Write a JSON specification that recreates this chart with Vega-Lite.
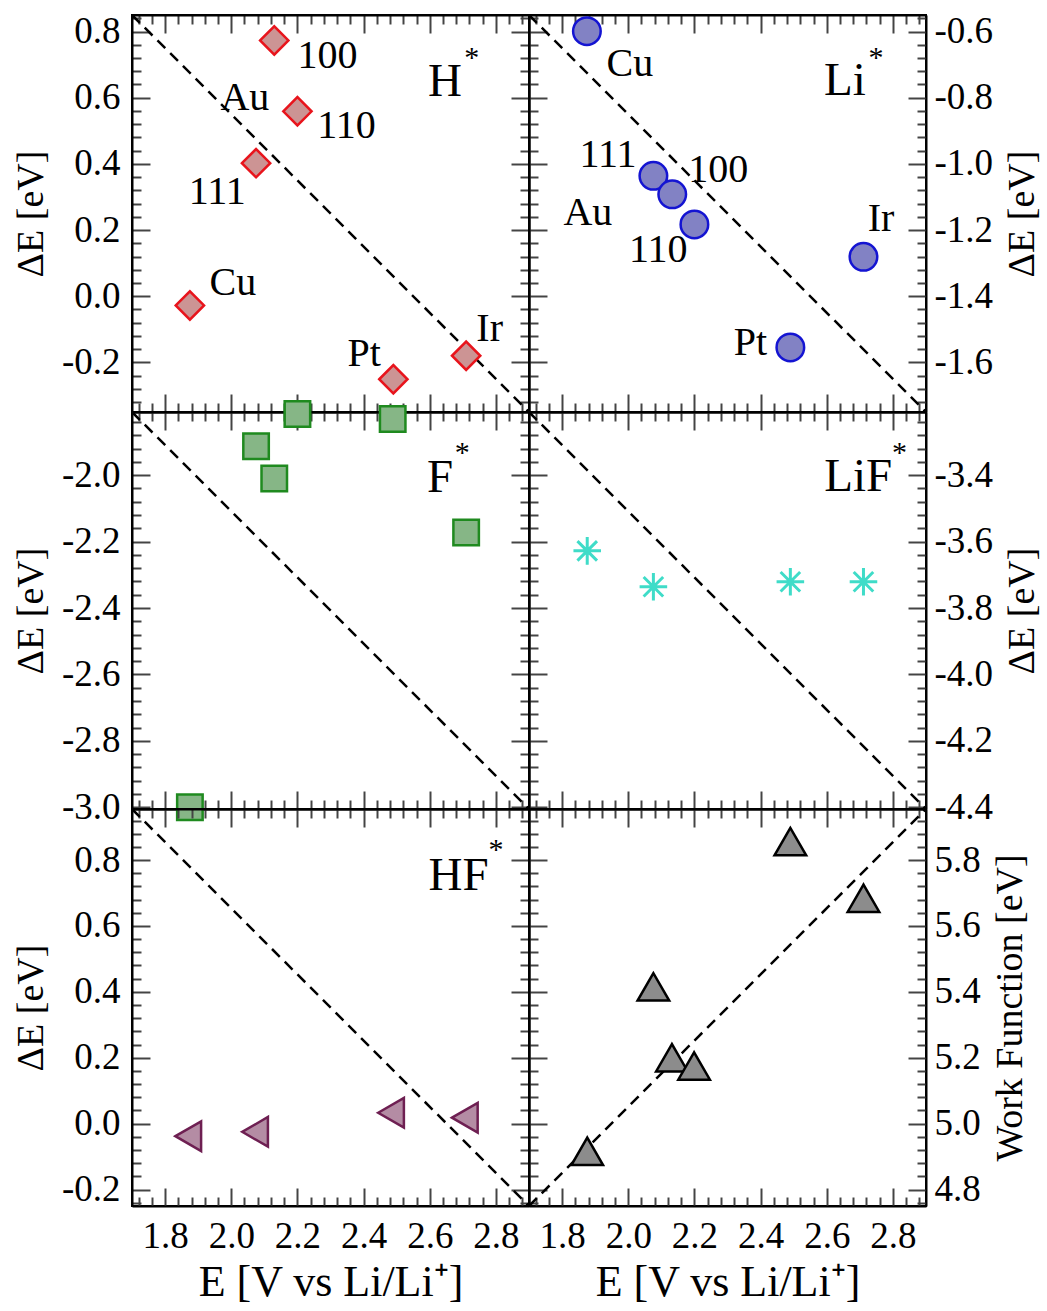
{
"$schema": "https://vega.github.io/schema/vega-lite/v6.json",
"background": "white",
"padding": {"left": 11, "top": 9, "right": 2, "bottom": 4},
"columns": 2, "spacing": 0, "bounds": "flush",
"datasets": {
"pts": [
{"panel":"H","site":"Cu","x":1.875,"y":-0.028},{"panel":"H","site":"Au111","x":2.075,"y":0.402},{"panel":"H","site":"Au100","x":2.13,"y":0.773},{"panel":"H","site":"Au110","x":2.2,"y":0.559},{"panel":"H","site":"Pt","x":2.49,"y":-0.251},{"panel":"H","site":"Ir","x":2.71,"y":-0.18},
{"panel":"Li","site":"Cu","x":1.875,"y":-0.599},{"panel":"Li","site":"Au111","x":2.076,"y":-1.036},{"panel":"Li","site":"Au100","x":2.133,"y":-1.092},{"panel":"Li","site":"Au110","x":2.2,"y":-1.183},{"panel":"Li","site":"Pt","x":2.49,"y":-1.555},{"panel":"Li","site":"Ir","x":2.711,"y":-1.281},
{"panel":"F","site":"Cu","x":1.875,"y":-3.0},{"panel":"F","site":"Au111","x":2.075,"y":-1.913},{"panel":"F","site":"Au100","x":2.13,"y":-2.01},{"panel":"F","site":"Au110","x":2.2,"y":-1.816},{"panel":"F","site":"Pt","x":2.488,"y":-1.831},{"panel":"F","site":"Ir","x":2.71,"y":-2.173},
{"panel":"LiF","site":"Cu","x":1.876,"y":-3.628},{"panel":"LiF","site":"Au111","x":2.076,"y":-3.736},{"panel":"LiF","site":"Pt","x":2.49,"y":-3.721},{"panel":"LiF","site":"Ir","x":2.711,"y":-3.721},
{"panel":"HF","site":"Cu","x":1.87,"y":-0.038},{"panel":"HF","site":"Au111","x":2.072,"y":-0.025},{"panel":"HF","site":"Pt","x":2.483,"y":0.033},{"panel":"HF","site":"Ir","x":2.706,"y":0.018},
{"panel":"WF","site":"Cu","x":1.876,"y":4.916},{"panel":"WF","site":"Au111","x":2.076,"y":5.415},{"panel":"WF","site":"Au100","x":2.132,"y":5.2},{"panel":"WF","site":"Au110","x":2.199,"y":5.175},{"panel":"WF","site":"Pt","x":2.49,"y":5.856},{"panel":"WF","site":"Ir","x":2.711,"y":5.684}
],
"lbl": [
{"panel":"H","text":"100","x":2.291,"y":0.725},{"panel":"H","text":"Au","x":2.041,"y":0.599},{"panel":"H","text":"110","x":2.348,"y":0.515},{"panel":"H","text":"111","x":1.958,"y":0.315},{"panel":"H","text":"Cu","x":2.005,"y":0.04},{"panel":"H","text":"Pt","x":2.402,"y":-0.175},{"panel":"H","text":"Ir","x":2.781,"y":-0.099},
{"panel":"Li","text":"Cu","x":2.005,"y":-0.698},{"panel":"Li","text":"111","x":1.939,"y":-0.973},{"panel":"Li","text":"100","x":2.272,"y":-1.018},{"panel":"Li","text":"Au","x":1.878,"y":-1.147},{"panel":"Li","text":"110","x":2.091,"y":-1.259},{"panel":"Li","text":"Ir","x":2.764,"y":-1.168},{"panel":"Li","text":"Pt","x":2.369,"y":-1.541}
],
"name": [
{"panel":"H","text":"H","x":2.646,"y":0.646},{"panel":"Li","text":"Li","x":2.655,"y":-0.75},{"panel":"F","text":"F","x":2.631,"y":-2.01},{"panel":"LiF","text":"LiF","x":2.695,"y":-3.407},{"panel":"HF","text":"HF","x":2.687,"y":0.753}
],
"star": [
{"panel":"H","text":"*","x":2.727,"y":0.72},{"panel":"Li","text":"*","x":2.749,"y":-0.68},{"panel":"F","text":"*","x":2.698,"y":-1.933},{"panel":"LiF","text":"*","x":2.82,"y":-3.334},{"panel":"HF","text":"*","x":2.8,"y":0.831}
],
"diag": [
{"panel":"H","x":1.7,"y":0.85},{"panel":"H","x":2.9,"y":-0.35},
{"panel":"Li","x":1.7,"y":-0.55},{"panel":"Li","x":2.9,"y":-1.75},
{"panel":"F","x":1.7,"y":-1.81},{"panel":"F","x":2.9,"y":-3.005},
{"panel":"LiF","x":1.7,"y":-3.21},{"panel":"LiF","x":2.9,"y":-4.405},
{"panel":"HF","x":1.7,"y":0.955},{"panel":"HF","x":2.9,"y":-0.25},
{"panel":"WF","x":1.7,"y":4.75},{"panel":"WF","x":2.9,"y":5.955}
]
},
"concat": [
{
"width": 397, "height": 397,
"resolve": {"axis": {"x": "independent", "y": "independent"}},
"layer": [
{"data": {"name": "diag"}, "transform": [{"filter": "datum.panel=='H'"}],
 "mark": {"type": "line", "stroke": "black", "strokeWidth": 2.5, "strokeDash": [11, 7]},
 "encoding": {
  "x": {"field": "x", "type": "quantitative", "scale": {"domain": [1.7, 2.9], "nice": false, "zero": false},
   "axis": {"orient": "bottom", "values": [1.72,1.76,1.8,1.84,1.88,1.92,1.96,2.0,2.04,2.08,2.12,2.16,2.2,2.24,2.28,2.32,2.36,2.4,2.44,2.48,2.52,2.56,2.6,2.64,2.68,2.72,2.76,2.8,2.84,2.88], "tickSize": {"condition": {"test": "abs(datum.value*5-round(datum.value*5))<0.01", "value": -18}, "value": -9}, "labels": false, "title": null}},
  "y": {"field": "y", "type": "quantitative", "scale": {"domain": [-0.35, 0.85], "nice": false, "zero": false},
   "axis": {"orient": "left", "values": [-0.32,-0.28,-0.24,-0.2,-0.16,-0.12,-0.08,-0.04,0,0.04,0.08,0.12,0.16,0.2,0.24,0.28,0.32,0.36,0.4,0.44,0.48,0.52,0.56,0.6,0.64,0.68,0.72,0.76,0.8,0.84], "tickSize": {"condition": {"test": "abs(datum.value*5-round(datum.value*5))<0.01", "value": -18}, "value": -9}, "labelFontSize": {"condition": {"test": "abs(datum.value*5-round(datum.value*5))<0.01", "value": 37}, "value": 0}, "labelExpr": "abs(datum.value*5-round(datum.value*5))<0.01 ? replace(format(datum.value,'.1f'),'−','-') : ''", "labelPadding": 30, "title": "ΔE [eV]", "titlePadding": 11}}
 }},
{"data": {"name": "pts"}, "transform": [{"filter": "datum.panel=='H'"}],
 "mark": {"type": "point", "shape": "diamond", "filled": true, "fill": "#cc9494", "fillOpacity": 1, "stroke": "#e8141c", "strokeWidth": 2.5, "size": 800, "opacity": 1},
 "encoding": {
  "x": {"field": "x", "type": "quantitative", "scale": {"domain": [1.7, 2.9], "nice": false, "zero": false},
   "axis": {"orient": "top", "values": [1.72,1.76,1.8,1.84,1.88,1.92,1.96,2.0,2.04,2.08,2.12,2.16,2.2,2.24,2.28,2.32,2.36,2.4,2.44,2.48,2.52,2.56,2.6,2.64,2.68,2.72,2.76,2.8,2.84,2.88], "tickSize": {"condition": {"test": "abs(datum.value*5-round(datum.value*5))<0.01", "value": -18}, "value": -9}, "labels": false, "title": null}},
  "y": {"field": "y", "type": "quantitative", "scale": {"domain": [-0.35, 0.85], "nice": false, "zero": false},
   "axis": {"orient": "right", "values": [-0.32,-0.28,-0.24,-0.2,-0.16,-0.12,-0.08,-0.04,0,0.04,0.08,0.12,0.16,0.2,0.24,0.28,0.32,0.36,0.4,0.44,0.48,0.52,0.56,0.6,0.64,0.68,0.72,0.76,0.8,0.84], "tickSize": {"condition": {"test": "abs(datum.value*5-round(datum.value*5))<0.01", "value": -18}, "value": -9}, "labels": false, "title": null}}
 }},
{"data": {"name": "lbl"}, "transform": [{"filter": "datum.panel=='H'"}],
 "mark": {"type": "text", "fontSize": 40, "align": "center", "baseline": "middle"},
 "encoding": {"x": {"field": "x", "type": "quantitative", "scale": {"domain": [1.7, 2.9], "nice": false, "zero": false}, "axis": null},
  "y": {"field": "y", "type": "quantitative", "scale": {"domain": [-0.35, 0.85], "nice": false, "zero": false}, "axis": null},
  "text": {"field": "text"}}},
{"data": {"name": "name"}, "transform": [{"filter": "datum.panel=='H'"}],
 "mark": {"type": "text", "fontSize": 47, "align": "center", "baseline": "middle"},
 "encoding": {"x": {"field": "x", "type": "quantitative", "scale": {"domain": [1.7, 2.9], "nice": false, "zero": false}, "axis": null},
  "y": {"field": "y", "type": "quantitative", "scale": {"domain": [-0.35, 0.85], "nice": false, "zero": false}, "axis": null},
  "text": {"field": "text"}}},
{"data": {"name": "star"}, "transform": [{"filter": "datum.panel=='H'"}],
 "mark": {"type": "text", "fontSize": 30, "align": "center", "baseline": "middle"},
 "encoding": {"x": {"field": "x", "type": "quantitative", "scale": {"domain": [1.7, 2.9], "nice": false, "zero": false}, "axis": null},
  "y": {"field": "y", "type": "quantitative", "scale": {"domain": [-0.35, 0.85], "nice": false, "zero": false}, "axis": null},
  "text": {"field": "text"}}}
]
},
{
"width": 397, "height": 397,
"resolve": {"axis": {"x": "independent", "y": "independent"}},
"layer": [
{"data": {"name": "diag"}, "transform": [{"filter": "datum.panel=='Li'"}],
 "mark": {"type": "line", "stroke": "black", "strokeWidth": 2.5, "strokeDash": [11, 7]},
 "encoding": {
  "x": {"field": "x", "type": "quantitative", "scale": {"domain": [1.7, 2.9], "nice": false, "zero": false},
   "axis": {"orient": "bottom", "values": [1.72,1.76,1.8,1.84,1.88,1.92,1.96,2.0,2.04,2.08,2.12,2.16,2.2,2.24,2.28,2.32,2.36,2.4,2.44,2.48,2.52,2.56,2.6,2.64,2.68,2.72,2.76,2.8,2.84,2.88], "tickSize": {"condition": {"test": "abs(datum.value*5-round(datum.value*5))<0.01", "value": -18}, "value": -9}, "labels": false, "title": null}},
  "y": {"field": "y", "type": "quantitative", "scale": {"domain": [-1.75, -0.55], "nice": false, "zero": false},
   "axis": {"orient": "right", "values": [-1.72,-1.68,-1.64,-1.6,-1.56,-1.52,-1.48,-1.44,-1.4,-1.36,-1.32,-1.28,-1.24,-1.2,-1.16,-1.12,-1.08,-1.04,-1.0,-0.96,-0.92,-0.88,-0.84,-0.8,-0.76,-0.72,-0.68,-0.64,-0.6,-0.56], "tickSize": {"condition": {"test": "abs(datum.value*5-round(datum.value*5))<0.01", "value": -18}, "value": -9}, "labelFontSize": {"condition": {"test": "abs(datum.value*5-round(datum.value*5))<0.01", "value": 37}, "value": 0}, "labelExpr": "abs(datum.value*5-round(datum.value*5))<0.01 ? replace(format(datum.value,'.1f'),'−','-') : ''", "labelPadding": 26, "title": "ΔE [eV]", "titleAngle": 270, "titleBaseline": "top", "titlePadding": 11}}
 }},
{"data": {"name": "pts"}, "transform": [{"filter": "datum.panel=='Li'"}],
 "mark": {"type": "point", "shape": "circle", "filled": true, "fill": "#8282c4", "fillOpacity": 1, "stroke": "#1414d2", "strokeWidth": 2.5, "size": 760, "opacity": 1},
 "encoding": {
  "x": {"field": "x", "type": "quantitative", "scale": {"domain": [1.7, 2.9], "nice": false, "zero": false},
   "axis": {"orient": "top", "values": [1.72,1.76,1.8,1.84,1.88,1.92,1.96,2.0,2.04,2.08,2.12,2.16,2.2,2.24,2.28,2.32,2.36,2.4,2.44,2.48,2.52,2.56,2.6,2.64,2.68,2.72,2.76,2.8,2.84,2.88], "tickSize": {"condition": {"test": "abs(datum.value*5-round(datum.value*5))<0.01", "value": -18}, "value": -9}, "labels": false, "title": null}},
  "y": {"field": "y", "type": "quantitative", "scale": {"domain": [-1.75, -0.55], "nice": false, "zero": false},
   "axis": {"orient": "left", "values": [-1.72,-1.68,-1.64,-1.6,-1.56,-1.52,-1.48,-1.44,-1.4,-1.36,-1.32,-1.28,-1.24,-1.2,-1.16,-1.12,-1.08,-1.04,-1.0,-0.96,-0.92,-0.88,-0.84,-0.8,-0.76,-0.72,-0.68,-0.64,-0.6,-0.56], "tickSize": {"condition": {"test": "abs(datum.value*5-round(datum.value*5))<0.01", "value": -18}, "value": -9}, "labels": false, "title": null}}
 }},
{"data": {"name": "lbl"}, "transform": [{"filter": "datum.panel=='Li'"}],
 "mark": {"type": "text", "fontSize": 40, "align": "center", "baseline": "middle"},
 "encoding": {"x": {"field": "x", "type": "quantitative", "scale": {"domain": [1.7, 2.9], "nice": false, "zero": false}, "axis": null},
  "y": {"field": "y", "type": "quantitative", "scale": {"domain": [-1.75, -0.55], "nice": false, "zero": false}, "axis": null},
  "text": {"field": "text"}}},
{"data": {"name": "name"}, "transform": [{"filter": "datum.panel=='Li'"}],
 "mark": {"type": "text", "fontSize": 47, "align": "center", "baseline": "middle"},
 "encoding": {"x": {"field": "x", "type": "quantitative", "scale": {"domain": [1.7, 2.9], "nice": false, "zero": false}, "axis": null},
  "y": {"field": "y", "type": "quantitative", "scale": {"domain": [-1.75, -0.55], "nice": false, "zero": false}, "axis": null},
  "text": {"field": "text"}}},
{"data": {"name": "star"}, "transform": [{"filter": "datum.panel=='Li'"}],
 "mark": {"type": "text", "fontSize": 30, "align": "center", "baseline": "middle"},
 "encoding": {"x": {"field": "x", "type": "quantitative", "scale": {"domain": [1.7, 2.9], "nice": false, "zero": false}, "axis": null},
  "y": {"field": "y", "type": "quantitative", "scale": {"domain": [-1.75, -0.55], "nice": false, "zero": false}, "axis": null},
  "text": {"field": "text"}}}
]
},
{
"width": 397, "height": 397,
"resolve": {"axis": {"x": "independent", "y": "independent"}},
"layer": [
{"data": {"name": "diag"}, "transform": [{"filter": "datum.panel=='F'"}],
 "mark": {"type": "line", "stroke": "black", "strokeWidth": 2.5, "strokeDash": [11, 7]},
 "encoding": {
  "x": {"field": "x", "type": "quantitative", "scale": {"domain": [1.7, 2.9], "nice": false, "zero": false},
   "axis": {"orient": "bottom", "values": [1.72,1.76,1.8,1.84,1.88,1.92,1.96,2.0,2.04,2.08,2.12,2.16,2.2,2.24,2.28,2.32,2.36,2.4,2.44,2.48,2.52,2.56,2.6,2.64,2.68,2.72,2.76,2.8,2.84,2.88], "tickSize": {"condition": {"test": "abs(datum.value*5-round(datum.value*5))<0.01", "value": -18}, "value": -9}, "labels": false, "title": null}},
  "y": {"field": "y", "type": "quantitative", "scale": {"domain": [-3.005, -1.81], "nice": false, "zero": false},
   "axis": {"orient": "left", "values": [-3.0,-2.96,-2.92,-2.88,-2.84,-2.8,-2.76,-2.72,-2.68,-2.64,-2.6,-2.56,-2.52,-2.48,-2.44,-2.4,-2.36,-2.32,-2.28,-2.24,-2.2,-2.16,-2.12,-2.08,-2.04,-2.0,-1.96,-1.92,-1.88,-1.84], "tickSize": {"condition": {"test": "abs(datum.value*5-round(datum.value*5))<0.01", "value": -18}, "value": -9}, "labelFontSize": {"condition": {"test": "abs(datum.value*5-round(datum.value*5))<0.01", "value": 37}, "value": 0}, "labelExpr": "abs(datum.value*5-round(datum.value*5))<0.01 ? replace(format(datum.value,'.1f'),'−','-') : ''", "labelPadding": 30, "title": "ΔE [eV]", "titlePadding": 11}}
 }},
{"data": {"name": "pts"}, "transform": [{"filter": "datum.panel=='F'"}],
 "mark": {"type": "point", "shape": "square", "filled": true, "fill": "#86b686", "fillOpacity": 1, "stroke": "#1f8a1f", "strokeWidth": 2.5, "size": 650, "opacity": 1},
 "encoding": {
  "x": {"field": "x", "type": "quantitative", "scale": {"domain": [1.7, 2.9], "nice": false, "zero": false},
   "axis": {"orient": "top", "values": [1.72,1.76,1.8,1.84,1.88,1.92,1.96,2.0,2.04,2.08,2.12,2.16,2.2,2.24,2.28,2.32,2.36,2.4,2.44,2.48,2.52,2.56,2.6,2.64,2.68,2.72,2.76,2.8,2.84,2.88], "tickSize": {"condition": {"test": "abs(datum.value*5-round(datum.value*5))<0.01", "value": -18}, "value": -9}, "labels": false, "title": null}},
  "y": {"field": "y", "type": "quantitative", "scale": {"domain": [-3.005, -1.81], "nice": false, "zero": false},
   "axis": {"orient": "right", "values": [-3.0,-2.96,-2.92,-2.88,-2.84,-2.8,-2.76,-2.72,-2.68,-2.64,-2.6,-2.56,-2.52,-2.48,-2.44,-2.4,-2.36,-2.32,-2.28,-2.24,-2.2,-2.16,-2.12,-2.08,-2.04,-2.0,-1.96,-1.92,-1.88,-1.84], "tickSize": {"condition": {"test": "abs(datum.value*5-round(datum.value*5))<0.01", "value": -18}, "value": -9}, "labels": false, "title": null}}
 }},
{"data": {"name": "name"}, "transform": [{"filter": "datum.panel=='F'"}],
 "mark": {"type": "text", "fontSize": 47, "align": "center", "baseline": "middle"},
 "encoding": {"x": {"field": "x", "type": "quantitative", "scale": {"domain": [1.7, 2.9], "nice": false, "zero": false}, "axis": null},
  "y": {"field": "y", "type": "quantitative", "scale": {"domain": [-3.005, -1.81], "nice": false, "zero": false}, "axis": null},
  "text": {"field": "text"}}},
{"data": {"name": "star"}, "transform": [{"filter": "datum.panel=='F'"}],
 "mark": {"type": "text", "fontSize": 30, "align": "center", "baseline": "middle"},
 "encoding": {"x": {"field": "x", "type": "quantitative", "scale": {"domain": [1.7, 2.9], "nice": false, "zero": false}, "axis": null},
  "y": {"field": "y", "type": "quantitative", "scale": {"domain": [-3.005, -1.81], "nice": false, "zero": false}, "axis": null},
  "text": {"field": "text"}}}
]
},
{
"width": 397, "height": 397,
"resolve": {"axis": {"x": "independent", "y": "independent"}},
"layer": [
{"data": {"name": "diag"}, "transform": [{"filter": "datum.panel=='LiF'"}],
 "mark": {"type": "line", "stroke": "black", "strokeWidth": 2.5, "strokeDash": [11, 7]},
 "encoding": {
  "x": {"field": "x", "type": "quantitative", "scale": {"domain": [1.7, 2.9], "nice": false, "zero": false},
   "axis": {"orient": "bottom", "values": [1.72,1.76,1.8,1.84,1.88,1.92,1.96,2.0,2.04,2.08,2.12,2.16,2.2,2.24,2.28,2.32,2.36,2.4,2.44,2.48,2.52,2.56,2.6,2.64,2.68,2.72,2.76,2.8,2.84,2.88], "tickSize": {"condition": {"test": "abs(datum.value*5-round(datum.value*5))<0.01", "value": -18}, "value": -9}, "labels": false, "title": null}},
  "y": {"field": "y", "type": "quantitative", "scale": {"domain": [-4.405, -3.21], "nice": false, "zero": false},
   "axis": {"orient": "right", "values": [-4.4,-4.36,-4.32,-4.28,-4.24,-4.2,-4.16,-4.12,-4.08,-4.04,-4.0,-3.96,-3.92,-3.88,-3.84,-3.8,-3.76,-3.72,-3.68,-3.64,-3.6,-3.56,-3.52,-3.48,-3.44,-3.4,-3.36,-3.32,-3.28,-3.24], "tickSize": {"condition": {"test": "abs(datum.value*5-round(datum.value*5))<0.01", "value": -18}, "value": -9}, "labelFontSize": {"condition": {"test": "abs(datum.value*5-round(datum.value*5))<0.01", "value": 37}, "value": 0}, "labelExpr": "abs(datum.value*5-round(datum.value*5))<0.01 ? replace(format(datum.value,'.1f'),'−','-') : ''", "labelPadding": 26, "title": "ΔE [eV]", "titleAngle": 270, "titleBaseline": "top", "titlePadding": 11}}
 }},
{"data": {"name": "pts"}, "transform": [{"filter": "datum.panel=='LiF'"}],
 "mark": {"type": "point", "shape": "M-1,0L1,0M0,-1L0,1M-0.71,-0.71L0.71,0.71M-0.71,0.71L0.71,-0.71", "filled": false, "stroke": "#3fdcc8", "strokeWidth": 3, "size": 760, "opacity": 1},
 "encoding": {
  "x": {"field": "x", "type": "quantitative", "scale": {"domain": [1.7, 2.9], "nice": false, "zero": false},
   "axis": {"orient": "top", "values": [1.72,1.76,1.8,1.84,1.88,1.92,1.96,2.0,2.04,2.08,2.12,2.16,2.2,2.24,2.28,2.32,2.36,2.4,2.44,2.48,2.52,2.56,2.6,2.64,2.68,2.72,2.76,2.8,2.84,2.88], "tickSize": {"condition": {"test": "abs(datum.value*5-round(datum.value*5))<0.01", "value": -18}, "value": -9}, "labels": false, "title": null}},
  "y": {"field": "y", "type": "quantitative", "scale": {"domain": [-4.405, -3.21], "nice": false, "zero": false},
   "axis": {"orient": "left", "values": [-4.4,-4.36,-4.32,-4.28,-4.24,-4.2,-4.16,-4.12,-4.08,-4.04,-4.0,-3.96,-3.92,-3.88,-3.84,-3.8,-3.76,-3.72,-3.68,-3.64,-3.6,-3.56,-3.52,-3.48,-3.44,-3.4,-3.36,-3.32,-3.28,-3.24], "tickSize": {"condition": {"test": "abs(datum.value*5-round(datum.value*5))<0.01", "value": -18}, "value": -9}, "labels": false, "title": null}}
 }},
{"data": {"name": "name"}, "transform": [{"filter": "datum.panel=='LiF'"}],
 "mark": {"type": "text", "fontSize": 47, "align": "center", "baseline": "middle"},
 "encoding": {"x": {"field": "x", "type": "quantitative", "scale": {"domain": [1.7, 2.9], "nice": false, "zero": false}, "axis": null},
  "y": {"field": "y", "type": "quantitative", "scale": {"domain": [-4.405, -3.21], "nice": false, "zero": false}, "axis": null},
  "text": {"field": "text"}}},
{"data": {"name": "star"}, "transform": [{"filter": "datum.panel=='LiF'"}],
 "mark": {"type": "text", "fontSize": 30, "align": "center", "baseline": "middle"},
 "encoding": {"x": {"field": "x", "type": "quantitative", "scale": {"domain": [1.7, 2.9], "nice": false, "zero": false}, "axis": null},
  "y": {"field": "y", "type": "quantitative", "scale": {"domain": [-4.405, -3.21], "nice": false, "zero": false}, "axis": null},
  "text": {"field": "text"}}}
]
},
{
"width": 397, "height": 397,
"resolve": {"axis": {"x": "independent", "y": "independent"}},
"layer": [
{"data": {"name": "diag"}, "transform": [{"filter": "datum.panel=='HF'"}],
 "mark": {"type": "line", "stroke": "black", "strokeWidth": 2.5, "strokeDash": [11, 7]},
 "encoding": {
  "x": {"field": "x", "type": "quantitative", "scale": {"domain": [1.7, 2.9], "nice": false, "zero": false},
   "axis": {"orient": "bottom", "values": [1.72,1.76,1.8,1.84,1.88,1.92,1.96,2.0,2.04,2.08,2.12,2.16,2.2,2.24,2.28,2.32,2.36,2.4,2.44,2.48,2.52,2.56,2.6,2.64,2.68,2.72,2.76,2.8,2.84,2.88], "tickSize": {"condition": {"test": "abs(datum.value*5-round(datum.value*5))<0.01", "value": -18}, "value": -9}, "labelFontSize": {"condition": {"test": "abs(datum.value*5-round(datum.value*5))<0.01", "value": 37}, "value": 0}, "labelExpr": "abs(datum.value*5-round(datum.value*5))<0.01 ? format(datum.value,'.1f') : ''", "labelPadding": 30, "title": "E [V vs Li/Li⁺]", "titleFontSize": 44, "titlePadding": 6}},
  "y": {"field": "y", "type": "quantitative", "scale": {"domain": [-0.25, 0.955], "nice": false, "zero": false},
   "axis": {"orient": "left", "values": [-0.24,-0.2,-0.16,-0.12,-0.08,-0.04,0,0.04,0.08,0.12,0.16,0.2,0.24,0.28,0.32,0.36,0.4,0.44,0.48,0.52,0.56,0.6,0.64,0.68,0.72,0.76,0.8,0.84,0.88,0.92], "tickSize": {"condition": {"test": "abs(datum.value*5-round(datum.value*5))<0.01", "value": -18}, "value": -9}, "labelFontSize": {"condition": {"test": "abs(datum.value*5-round(datum.value*5))<0.01", "value": 37}, "value": 0}, "labelExpr": "abs(datum.value*5-round(datum.value*5))<0.01 ? replace(format(datum.value,'.1f'),'−','-') : ''", "labelPadding": 30, "title": "ΔE [eV]", "titlePadding": 11}}
 }},
{"data": {"name": "pts"}, "transform": [{"filter": "datum.panel=='HF'"}],
 "mark": {"type": "point", "shape": "triangle-left", "filled": true, "fill": "#b48ca4", "fillOpacity": 1, "stroke": "#6e1f52", "strokeWidth": 2.5, "size": 880, "opacity": 1},
 "encoding": {
  "x": {"field": "x", "type": "quantitative", "scale": {"domain": [1.7, 2.9], "nice": false, "zero": false},
   "axis": {"orient": "top", "values": [1.72,1.76,1.8,1.84,1.88,1.92,1.96,2.0,2.04,2.08,2.12,2.16,2.2,2.24,2.28,2.32,2.36,2.4,2.44,2.48,2.52,2.56,2.6,2.64,2.68,2.72,2.76,2.8,2.84,2.88], "tickSize": {"condition": {"test": "abs(datum.value*5-round(datum.value*5))<0.01", "value": -18}, "value": -9}, "labels": false, "title": null}},
  "y": {"field": "y", "type": "quantitative", "scale": {"domain": [-0.25, 0.955], "nice": false, "zero": false},
   "axis": {"orient": "right", "values": [-0.24,-0.2,-0.16,-0.12,-0.08,-0.04,0,0.04,0.08,0.12,0.16,0.2,0.24,0.28,0.32,0.36,0.4,0.44,0.48,0.52,0.56,0.6,0.64,0.68,0.72,0.76,0.8,0.84,0.88,0.92], "tickSize": {"condition": {"test": "abs(datum.value*5-round(datum.value*5))<0.01", "value": -18}, "value": -9}, "labels": false, "title": null}}
 }},
{"data": {"name": "name"}, "transform": [{"filter": "datum.panel=='HF'"}],
 "mark": {"type": "text", "fontSize": 47, "align": "center", "baseline": "middle"},
 "encoding": {"x": {"field": "x", "type": "quantitative", "scale": {"domain": [1.7, 2.9], "nice": false, "zero": false}, "axis": null},
  "y": {"field": "y", "type": "quantitative", "scale": {"domain": [-0.25, 0.955], "nice": false, "zero": false}, "axis": null},
  "text": {"field": "text"}}},
{"data": {"name": "star"}, "transform": [{"filter": "datum.panel=='HF'"}],
 "mark": {"type": "text", "fontSize": 30, "align": "center", "baseline": "middle"},
 "encoding": {"x": {"field": "x", "type": "quantitative", "scale": {"domain": [1.7, 2.9], "nice": false, "zero": false}, "axis": null},
  "y": {"field": "y", "type": "quantitative", "scale": {"domain": [-0.25, 0.955], "nice": false, "zero": false}, "axis": null},
  "text": {"field": "text"}}}
]
},
{
"width": 397, "height": 397,
"resolve": {"axis": {"x": "independent", "y": "independent"}},
"layer": [
{"data": {"name": "diag"}, "transform": [{"filter": "datum.panel=='WF'"}],
 "mark": {"type": "line", "stroke": "black", "strokeWidth": 2.5, "strokeDash": [11, 7]},
 "encoding": {
  "x": {"field": "x", "type": "quantitative", "scale": {"domain": [1.7, 2.9], "nice": false, "zero": false},
   "axis": {"orient": "bottom", "values": [1.72,1.76,1.8,1.84,1.88,1.92,1.96,2.0,2.04,2.08,2.12,2.16,2.2,2.24,2.28,2.32,2.36,2.4,2.44,2.48,2.52,2.56,2.6,2.64,2.68,2.72,2.76,2.8,2.84,2.88], "tickSize": {"condition": {"test": "abs(datum.value*5-round(datum.value*5))<0.01", "value": -18}, "value": -9}, "labelFontSize": {"condition": {"test": "abs(datum.value*5-round(datum.value*5))<0.01", "value": 37}, "value": 0}, "labelExpr": "abs(datum.value*5-round(datum.value*5))<0.01 ? format(datum.value,'.1f') : ''", "labelPadding": 30, "title": "E [V vs Li/Li⁺]", "titleFontSize": 44, "titlePadding": 6}},
  "y": {"field": "y", "type": "quantitative", "scale": {"domain": [4.75, 5.955], "nice": false, "zero": false},
   "axis": {"orient": "right", "values": [4.76,4.8,4.84,4.88,4.92,4.96,5.0,5.04,5.08,5.12,5.16,5.2,5.24,5.28,5.32,5.36,5.4,5.44,5.48,5.52,5.56,5.6,5.64,5.68,5.72,5.76,5.8,5.84,5.88,5.92], "tickSize": {"condition": {"test": "abs(datum.value*5-round(datum.value*5))<0.01", "value": -18}, "value": -9}, "labelFontSize": {"condition": {"test": "abs(datum.value*5-round(datum.value*5))<0.01", "value": 37}, "value": 0}, "labelExpr": "abs(datum.value*5-round(datum.value*5))<0.01 ? format(datum.value,'.1f') : ''", "labelPadding": 26, "title": "Work Function [eV]", "titleAngle": 270, "titleBaseline": "top", "titlePadding": 11}}
 }},
{"data": {"name": "pts"}, "transform": [{"filter": "datum.panel=='WF'"}],
 "mark": {"type": "point", "shape": "triangle-up", "filled": true, "fill": "#8c8c8c", "fillOpacity": 1, "stroke": "black", "strokeWidth": 2.5, "size": 1000, "opacity": 1},
 "encoding": {
  "x": {"field": "x", "type": "quantitative", "scale": {"domain": [1.7, 2.9], "nice": false, "zero": false},
   "axis": {"orient": "top", "values": [1.72,1.76,1.8,1.84,1.88,1.92,1.96,2.0,2.04,2.08,2.12,2.16,2.2,2.24,2.28,2.32,2.36,2.4,2.44,2.48,2.52,2.56,2.6,2.64,2.68,2.72,2.76,2.8,2.84,2.88], "tickSize": {"condition": {"test": "abs(datum.value*5-round(datum.value*5))<0.01", "value": -18}, "value": -9}, "labels": false, "title": null}},
  "y": {"field": "y", "type": "quantitative", "scale": {"domain": [4.75, 5.955], "nice": false, "zero": false},
   "axis": {"orient": "left", "values": [4.76,4.8,4.84,4.88,4.92,4.96,5.0,5.04,5.08,5.12,5.16,5.2,5.24,5.28,5.32,5.36,5.4,5.44,5.48,5.52,5.56,5.6,5.64,5.68,5.72,5.76,5.8,5.84,5.88,5.92], "tickSize": {"condition": {"test": "abs(datum.value*5-round(datum.value*5))<0.01", "value": -18}, "value": -9}, "labels": false, "title": null}}
 }}
]
}
],
"config": {
 "font": "Liberation Serif",
 "view": {"stroke": "black", "strokeWidth": 2},
 "axis": {"grid": false, "domainColor": "black", "domainWidth": 2, "tickColor": "#444444", "tickWidth": 2,
  "minExtent": 0,
  "labelFont": "Liberation Serif", "labelFontSize": 37, "labelColor": "black",
  "titleFont": "Liberation Serif", "titleFontSize": 38, "titleFontWeight": "normal", "titleColor": "black",
  "labelOverlap": false, "labelFlush": false, "labelBound": false},
 "text": {"font": "Liberation Serif", "color": "black"}
}
}
